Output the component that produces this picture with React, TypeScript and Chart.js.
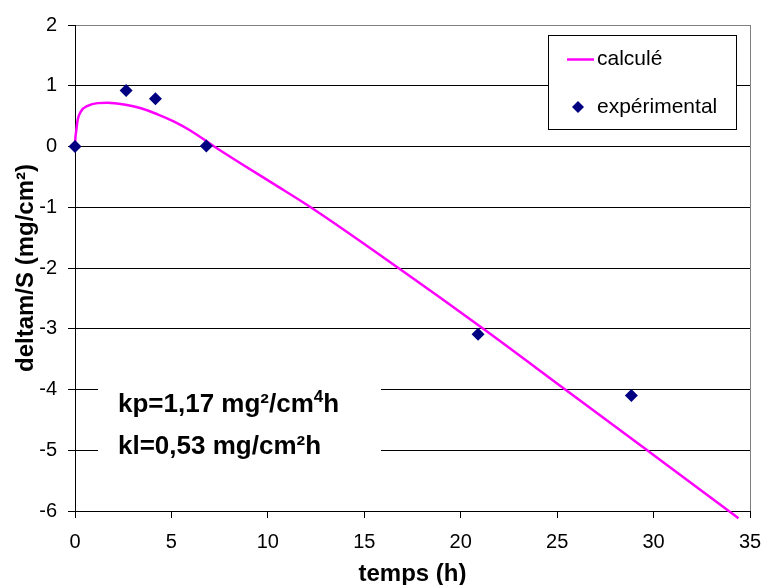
import React, { useEffect, useRef } from 'react';
import { Chart, registerables } from 'chart.js';

Chart.register(...registerables);

// ---- data ----
const calcTime = [0, 0.02, 0.05, 0.14, 0.31, 0.66, 1.17, 1.69, 2.55, 3.42, 4.28, 5.14, 6.0, 7.22, 8.6, 10.32, 12.22, 16.77, 21.17, 25.42, 29.67, 33.9, 34.4];
const calcValue = [0, 0.14, 0.22, 0.44, 0.58, 0.67, 0.714, 0.72, 0.69, 0.63, 0.53, 0.41, 0.26, 0, -0.28, -0.62, -1, -2, -3, -4, -5, -6, -6.12];
const expTime = [0, 2.65, 4.17, 6.81, 20.9, 28.85];
const expValue = [0, 0.92, 0.785, 0.01, -3.09, -4.1];
const seriesNames = ['calculé', 'expérimental'];
const xRange = [0, 35];
const xStep = 5;
const yRange = [-6, 2];
const yStep = 1;
const xTitle = 'temps (h)';
const yTitle = 'deltam/S (mg/cm²)';
const noteKp = ['kp=1,17 mg²/cm', '4', 'h'];
const noteKl = 'kl=0,53 mg/cm²h';

const FONT = '"Liberation Sans", Arial, sans-serif';
const LINE_COLOR = '#FF00FF';
const POINT_COLOR = '#000080';

const overlay = {
  id: 'overlay',
  beforeDraw(chart: any) {
    const { ctx, width, height } = chart;
    ctx.save();
    ctx.fillStyle = '#ffffff';
    ctx.fillRect(0, 0, width, height);
    ctx.restore();
  },
  beforeDatasetsDraw(chart: any) {
    const { ctx, chartArea: a } = chart;
    ctx.save();
    ctx.strokeStyle = '#808080';
    ctx.lineWidth = 1;
    ctx.beginPath();
    const rx = Math.round(a.right) + 0.5;
    ctx.moveTo(rx, a.top);
    ctx.lineTo(rx, a.bottom);
    ctx.stroke();
    ctx.restore();
  },
  afterDraw(chart: any) {
    const { ctx, chartArea: a } = chart;
    ctx.save();
    // legend box
    const lx = 548.5, ly = 35.5, lw = 188, lh = 94;
    ctx.fillStyle = '#ffffff';
    ctx.fillRect(lx, ly, lw, lh);
    ctx.strokeStyle = '#000000';
    ctx.lineWidth = 1;
    ctx.strokeRect(lx, ly, lw, lh);
    ctx.strokeStyle = LINE_COLOR;
    ctx.lineWidth = 2.5;
    ctx.beginPath();
    ctx.moveTo(567, 59.5);
    ctx.lineTo(594, 59.5);
    ctx.stroke();
    ctx.fillStyle = POINT_COLOR;
    const dx = 578, dy = 107, r = 6;
    ctx.beginPath();
    ctx.moveTo(dx, dy - r);
    ctx.lineTo(dx + r, dy);
    ctx.lineTo(dx, dy + r);
    ctx.lineTo(dx - r, dy);
    ctx.closePath();
    ctx.fill();
    ctx.fillStyle = '#000000';
    ctx.font = `21px ${FONT}`;
    ctx.textBaseline = 'middle';
    ctx.textAlign = 'left';
    ctx.fillText(seriesNames[0], 597, 59);
    ctx.fillText(seriesNames[1], 597, 107);

    // annotation box
    ctx.fillStyle = '#ffffff';
    ctx.fillRect(98, 369, 283, 102);
    ctx.fillStyle = '#000000';
    ctx.textBaseline = 'alphabetic';
    ctx.font = `bold 26px ${FONT}`;
    let x = 118;
    ctx.fillText(noteKp[0], x, 412);
    x += ctx.measureText(noteKp[0]).width;
    ctx.font = `bold 17px ${FONT}`;
    ctx.fillText(noteKp[1], x, 402);
    x += ctx.measureText(noteKp[1]).width;
    ctx.font = `bold 26px ${FONT}`;
    ctx.fillText(noteKp[2], x, 412);
    ctx.fillText(noteKl, 118, 454);

    // axis titles
    ctx.font = `bold 24px ${FONT}`;
    ctx.textAlign = 'center';
    ctx.textBaseline = 'alphabetic';
    ctx.fillText(xTitle, (a.left + a.right) / 2, 581);
    ctx.translate(33, (a.top + a.bottom) / 2);
    ctx.rotate(-Math.PI / 2);
    ctx.fillText(yTitle, 0, 0);
    ctx.restore();
  },
};

export default function App() {
  const ref = useRef<HTMLCanvasElement | null>(null);
  useEffect(() => {
    document.body.style.margin = '0';
    const canvas = ref.current;
    if (!canvas) return;
    const chart = new Chart(canvas, {
      type: 'scatter',
      data: {
        datasets: [
          {
            label: seriesNames[0],
            data: calcTime.map((t, i) => ({ x: t, y: calcValue[i] })),
            showLine: true,
            borderColor: LINE_COLOR,
            borderWidth: 2.5,
            pointRadius: 0,
            cubicInterpolationMode: 'monotone',
            clip: false as any,
            order: 2,
          },
          {
            label: seriesNames[1],
            data: expTime.map((t, i) => ({ x: t, y: expValue[i] })),
            showLine: false,
            backgroundColor: POINT_COLOR,
            borderColor: POINT_COLOR,
            borderWidth: 0,
            pointStyle: 'rectRot',
            pointRadius: 6.5,
            clip: false as any,
            order: 1,
          },
        ],
      },
      options: {
        responsive: false,
        animation: false,
        devicePixelRatio: 1,
        layout: { padding: { left: 0, right: 13, top: 25, bottom: 0 } },
        plugins: { legend: { display: false }, tooltip: { enabled: false } },
        scales: {
          x: {
            type: 'linear',
            min: xRange[0],
            max: xRange[1],
            ticks: { stepSize: xStep, color: '#000', font: { family: FONT, size: 20 }, padding: 12 },
            grid: { drawOnChartArea: false, drawTicks: true, tickLength: 7, tickColor: '#000' },
            border: { color: '#000', width: 1 },
            afterFit: (s: any) => { s.height = 74; s.paddingRight = 0; s.paddingLeft = 0; },
          },
          y: {
            type: 'linear',
            min: yRange[0],
            max: yRange[1],
            ticks: { stepSize: yStep, color: '#000', font: { family: FONT, size: 20 }, padding: 11 },
            grid: {
              color: (c: any) => (c.tick && c.tick.value === yRange[1] ? '#808080' : '#000'),
              lineWidth: 1,
              drawTicks: true,
              tickLength: 7,
              tickColor: '#000',
            },
            border: { color: '#000', width: 1 },
            afterFit: (s: any) => { s.width = 75; s.paddingTop = 0; s.paddingBottom = 0; },
          },
        },
      },
      plugins: [overlay],
    } as any);
    return () => chart.destroy();
  }, []);
  return <canvas ref={ref} width={763} height={585} style={{ display: 'block' }} />;
}
